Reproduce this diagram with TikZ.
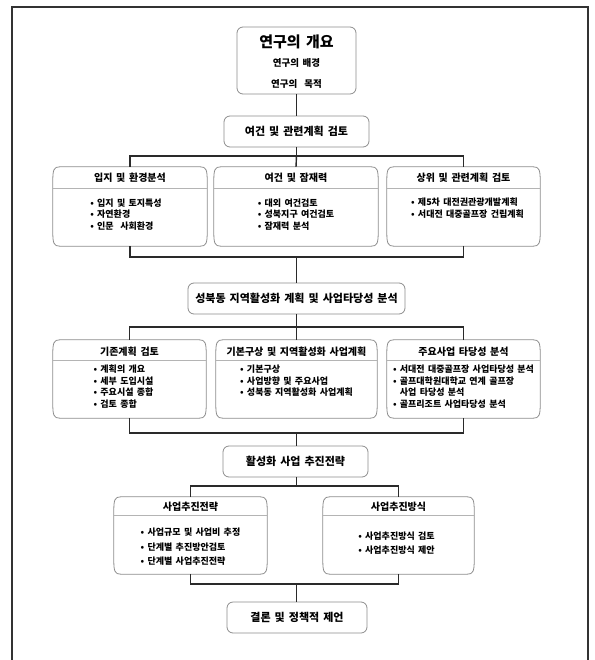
\documentclass[tikz,border=0pt]{standalone}
\usepackage{fontspec}
\setmainfont{Noto Sans CJK KR}[WordSpace=1.6]
\usetikzlibrary{calc}
\definecolor{boxgray}{HTML}{8C8C8C}
\definecolor{divgray}{HTML}{B4B4B4}
\definecolor{linedark}{HTML}{2A2A2A}
\definecolor{framedark}{HTML}{333333}
\newcommand\rndbox[1]{%
 \draw[subline] ($(#1.north west)+(7,0)$) -- ($(#1.north east)+(-7,0)$)
   .. controls ($(#1.north east)+(-1,0)$) and ($(#1.north east)+(0,3)$) .. ($(#1.north east)+(0,14)$)
   -- ($(#1.south east)+(0,-14)$)
   .. controls ($(#1.south east)+(0,-3)$) and ($(#1.south east)+(-1,0)$) .. ($(#1.south east)+(-7,0)$)
   -- ($(#1.south west)+(7,0)$)
   .. controls ($(#1.south west)+(1,0)$) and ($(#1.south west)+(0,-3)$) .. ($(#1.south west)+(0,-14)$)
   -- ($(#1.north west)+(0,14)$)
   .. controls ($(#1.north west)+(0,3)$) and ($(#1.north west)+(1,0)$) .. ($(#1.north west)+(7,0)$) -- cycle;}
\begin{document}
\begin{tikzpicture}[x=1pt,y=-1pt,
  mainbox/.style={draw=boxgray, line width=0.8pt, rounded corners=6pt, inner sep=0pt,
     font=\bfseries\fontsize{11}{13}\selectfont},
  subshape/.style={draw=none, inner sep=0pt, rectangle},
  subline/.style={draw=boxgray, line width=0.8pt},
  divider/.style={draw=divgray, line width=0.6pt},
  stitle/.style={inner sep=0pt, font=\bfseries\fontsize{10}{12}\selectfont},
  blist/.style={inner sep=0pt, align=left, font=\bfseries\fontsize{9}{11.5}\selectfont},
  blistwide/.style={inner sep=0pt, align=left, font=\bfseries\fontsize{9}{14.5}\selectfont},
  conn/.style={draw=linedark, line width=1.4pt},
  frameline/.style={draw=framedark, line width=1.8pt}]
\useasboundingbox (0,0) rectangle (594,660);
\draw[frameline] (12,661) -- (12,7) -- (588,7) -- (588,661);

% top box
\node[draw=boxgray, line width=0.8pt, rounded corners=6pt, minimum width=119, minimum height=67, inner sep=0pt] (intro) at (296.5,60.5) {};
\node[inner sep=0pt, font=\bfseries\fontsize{15}{17}\selectfont] (introT) at ($(intro.north)+(0,15)$) {연구의 개요};
\node[inner sep=0pt, font=\bfseries\fontsize{9.5}{11}\selectfont] (introA) at ($(intro.north)+(0,36)$) {연구의 배경};
\node[inner sep=0pt, font=\bfseries\fontsize{9.5}{11}\selectfont] (introB) at ($(intro.north)+(0,57)$) {연구의 \ 목적};

% level 2
\node[mainbox, minimum width=145, minimum height=31] (review) at (296.5,131.5) {여건 및 관련계획 검토};

% row 1
\node[subshape, minimum width=154, minimum height=79] (A1) at (130,206.5) {};
\node[subshape, minimum width=164, minimum height=79] (B1) at (296,206.5) {};
\node[subshape, minimum width=153, minimum height=79] (C1) at (463.5,206.5) {};
\rndbox{A1}\rndbox{B1}\rndbox{C1}
\foreach \n in {A1,B1,C1}{\draw[divider] (\n.west |- 0,188) -- (\n.east |- 0,188);}
\node[stitle] (A1t) at ($(A1.north)+(0,11)$) {입지 및 환경분석};
\node[stitle] (B1t) at ($(B1.north)+(0,11)$) {여건 및 잠재력};
\node[stitle] (C1t) at ($(C1.north)+(0,11)$) {상위 및 관련계획 검토};
\node[blist] (A1l) at ($(A1.north)+(-4,47.5)$) {• 입지 및 토지특성\\• 자연환경\\• 인문 \ 사회환경};
\node[blist] (B1l) at ($(B1.north)+(0,47.5)$) {• 대외 여건검토\\• 성북지구 여건검토\\• 잠재력 분석};
\node[blist] (C1l) at ($(C1.north)+(4,41.5)$) {• 제5차 대전권관광개발계획\\• 서대전 대중골프장 건립계획};

% level 3
\node[mainbox, minimum width=217, minimum height=31] (plan) at (296.5,298.5) {성북동 지역활성화 계획 및 사업타당성 분석};

% row 2
\node[subshape, minimum width=153, minimum height=78] (A2) at (129.5,379) {};
\node[subshape, minimum width=161, minimum height=78] (B2) at (296.5,379) {};
\node[subshape, minimum width=153, minimum height=78] (C2) at (463.5,379) {};
\rndbox{A2}\rndbox{B2}\rndbox{C2}
\foreach \n in {A2,B2,C2}{\draw[divider] (\n.west |- 0,360) -- (\n.east |- 0,360);}
\node[stitle] (A2t) at ($(A2.north)+(0,12)$) {기존계획 검토};
\node[stitle] (B2t) at ($(B2.north)+(0,12)$) {기본구상 및 지역활성화 사업계획};
\node[stitle] (C2t) at ($(C2.north)+(0,12)$) {주요사업 타당성 분석};
\node[blist] (A2l) at ($(A2.north)+(-6,47)$) {• 계획의 개요\\• 세부 도입시설\\• 주요시설 종합\\• 검토 종합};
\node[blist] (B2l) at ($(B2.north)+(0,41)$) {• 기본구상\\• 사업방향 및 주요사업\\• 성북동 지역활성화 사업계획};
\node[blist] (C2l) at ($(C2.north)+(0,47)$) {• 서대전 대중골프장 사업타당성 분석\\• 골프대학원대학교 연계 골프장\\\phantom{• }사업 타당성 분석\\• 골프리조트 사업타당성 분석};

% level 4
\node[mainbox, minimum width=145, minimum height=31] (promo) at (295.5,461.5) {활성화 사업 추진전략};

% row 3
\node[subshape, minimum width=153, minimum height=77] (L3) at (190.5,535.5) {};
\node[subshape, minimum width=151, minimum height=77] (R3) at (398.5,535.5) {};
\rndbox{L3}\rndbox{R3}
\foreach \n in {L3,R3}{\draw[divider] (\n.west |- 0,515) -- (\n.east |- 0,515);}
\node[stitle] (L3t) at ($(L3.north)+(0,10)$) {사업추진전략};
\node[stitle] (R3t) at ($(R3.north)+(0,10)$) {사업추진방식};
\node[blistwide] (L3l) at ($(L3.north)+(0,50)$) {• 사업규모 및 사업비 추정\\• 단계별 추진방안검토\\• 단계별 사업추진전략};
\node[blistwide] (R3l) at ($(R3.north)+(-2,46.5)$) {• 사업추진방식 검토\\• 사업추진방식 제안};

% final
\node[mainbox, minimum width=140, minimum height=31] (concl) at (297,617.5) {결론 및 정책적 제언};

% connectors
\draw[conn] (intro.south) -- (review.north);
\coordinate (bus1) at (296.5,156);
\draw[conn] (review.south) -- (bus1);
\draw[conn] (A1.north) |- (bus1) -| (C1.north);
\draw[conn] (bus1) -- (B1.north);
\coordinate (bus2) at (296.5,257);
\draw[conn] (A1.south) |- (bus2) -| (C1.south);
\draw[conn] (bus2) -- (plan.north);
\coordinate (bus3) at (296.5,327);
\draw[conn] (plan.south) -- (bus3);
\draw[conn] (A2.north) |- (bus3) -| (C2.north);
\draw[conn] (bus3) -- (B2.north);
\coordinate (bus4) at (296.5,433);
\draw[conn] (A2.south) |- (bus4) -| (C2.south);
\draw[conn] (bus4) -- (bus4 |- promo.north);
\coordinate (bus5) at (296.5,486);
\draw[conn] (bus5 |- promo.south) -- (bus5);
\draw[conn] (L3.north) |- (bus5) -| (R3.north);
\coordinate (bus6) at (296.5,584);
\draw[conn] (L3.south) |- (bus6) -| (R3.south);
\draw[conn] (bus6) -- (bus6 |- concl.north);
\end{tikzpicture}
\end{document}
